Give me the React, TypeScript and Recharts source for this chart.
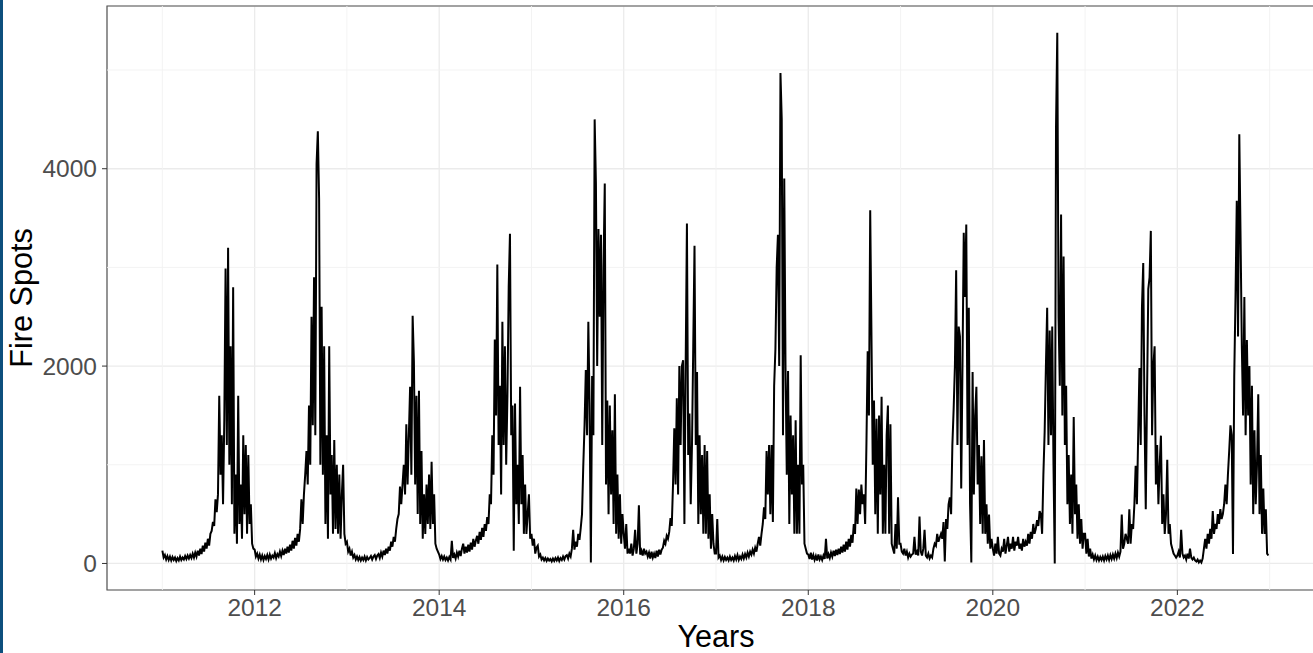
import React from 'react';
import { LineChart, Line, XAxis, YAxis, CartesianGrid, ReferenceLine, ReferenceArea, Label } from 'recharts';

const years = [2011, 2012, 2013, 2014, 2015, 2016, 2017, 2018, 2019, 2020, 2021, 2022];

const fires2011 = [
  130, 60, 85, 40, 75, 35, 70, 30, 65, 35,
  60, 25, 55, 30, 70, 35, 60, 40, 75, 45,
  80, 50, 85, 55, 100, 60, 110, 70, 130, 80,
  150, 95, 180, 120, 210, 150, 250, 180, 300, 330,
  420, 380, 650, 520, 700, 1700, 900, 1300, 600, 1450,
  2990, 1200, 3200, 1000, 2200, 600, 2800, 300, 900, 200,
  1700, 400, 800, 250, 1300, 500, 1200, 300, 1100, 400, 600, 200, 150,
];
const fires2012 = [
  140, 70, 100, 50, 90, 40, 80, 35, 75, 45,
  85, 40, 90, 50, 80, 60, 105, 55, 95, 70,
  120, 75, 130, 85, 150, 100, 170, 110, 190, 130,
  230, 150, 260, 180, 300, 220, 350, 650, 400, 700,
  900, 1140, 800, 1600, 1000, 2500, 1400, 2900, 1300, 4050,
  4380, 3700, 1000, 2600, 900, 2200, 400, 1300, 250, 2200,
  700, 1100, 300, 1250, 350, 1000, 300, 900, 250, 700,
  1000, 300, 200,
];
const fires2013 = [
  220, 120, 150, 80, 120, 60, 85, 40, 70, 35,
  65, 30, 60, 35, 70, 30, 65, 40, 55, 75,
  40, 70, 85, 45, 80, 95, 55, 110, 70, 130,
  85, 150, 100, 170, 130, 220, 170, 270, 220, 350,
  450, 500, 780, 600, 800, 1000, 700, 1410, 800, 1300,
  1790, 900, 2510, 2050, 800, 1700, 500, 1750, 400, 1140,
  250, 700, 300, 800, 400, 900, 350, 1030, 400, 700,
  200, 150, 120,
];
const fires2014 = [
  90, 45, 75, 40, 70, 35, 60, 30, 65, 40,
  230, 55, 90, 50, 110, 70, 130, 75, 150, 200,
  100, 170, 110, 190, 120, 210, 140, 250, 170, 230,
  280, 200, 320, 240, 360, 270, 400, 330, 470, 400,
  700, 600, 1300, 900, 2270, 1500, 3030, 1200, 1800, 700,
  2450, 1200, 2200, 1000, 1700, 2800, 3340, 1300, 1600, 130,
  1620, 600, 1000, 400, 1790, 600, 1100, 300, 800, 300,
  500, 700, 250,
];
const fires2015 = [
  300, 180, 250, 100, 160, 180, 70, 90, 40, 60,
  30, 55, 25, 50, 30, 45, 20, 50, 25, 55,
  30, 60, 25, 55, 35, 70, 40, 75, 85, 50,
  100, 70, 150, 340, 140, 220, 170, 300, 240, 360,
  500, 990, 1400, 1960, 1300, 2450, 1600, 10, 1900, 1300,
  4500, 3850, 2000, 3390, 2500, 3330, 1200, 3000, 3850, 800,
  1650, 500, 1600, 700, 1350, 400, 1715, 300, 900, 250,
  700, 200, 500,
];
const fires2016 = [
  300, 150, 400, 100, 150, 100, 200, 80, 150, 340,
  100, 200, 590, 90, 130, 80, 150, 100, 120, 70,
  110, 50, 120, 60, 100, 55, 130, 70, 140, 90,
  140, 160, 230, 200, 280, 250, 320, 460, 380, 800,
  1370, 800, 1675, 700, 2000, 1200, 2000, 2060, 400, 2000,
  3445, 1100, 1520, 600, 1200, 2200, 3220, 1200, 1940, 400,
  1300, 500, 1100, 300, 1200, 300, 1140, 250, 700, 150,
  500, 200, 100,
];
const fires2017 = [
  100, 450, 60, 80, 35, 70, 30, 65, 35, 60,
  30, 70, 35, 60, 30, 75, 40, 85, 35, 70,
  45, 90, 50, 95, 60, 110, 70, 120, 90, 140,
  100, 160, 120, 200, 270, 180, 300, 400, 570, 450,
  1140, 700, 1200, 500, 1200, 420, 1800, 2170, 3000, 3330,
  2000, 4970, 4500, 1300, 3900, 1980, 900, 1950, 400, 1500,
  700, 1300, 300, 1450, 300, 1000, 300, 2110, 800, 1000,
  200, 150, 100,
];
const fires2018 = [
  90, 45, 110, 40, 85, 35, 75, 30, 90, 40,
  70, 35, 80, 45, 250, 50, 95, 55, 110, 70,
  130, 75, 140, 85, 150, 95, 170, 110, 190, 120,
  220, 140, 250, 170, 290, 210, 400, 300, 760, 400,
  750, 500, 800, 600, 700, 400, 1200, 2150, 1500, 3580,
  2300, 1000, 1650, 500, 1465, 300, 1500, 700, 1690, 300,
  1000, 300, 1300, 1600, 300, 1410, 200, 150, 100, 400,
  150, 670, 200,
];
const fires2019 = [
  200, 120, 100, 150, 80, 120, 60, 100, 70, 90,
  100, 270, 90, 120, 80, 475, 120, 80, 150, 340,
  80, 60, 100, 50, 80, 60, 150, 200, 180, 300,
  220, 260, 300, 250, 420, 20, 450, 350, 600, 670,
  500, 1200, 1560, 2000, 2970, 1200, 2400, 2300, 760, 2000,
  3350, 2700, 3435, 1200, 2590, 600, 10, 1940, 700, 1500,
  1790, 800, 1200, 400, 1085, 300, 1250, 300, 600, 200,
  495, 150, 250,
];
const fires2020 = [
  150, 80, 200, 100, 270, 100, 80, 150, 120, 250,
  100, 180, 270, 120, 200, 150, 270, 130, 220, 180,
  270, 150, 200, 130, 250, 170, 220, 180, 300, 200,
  320, 250, 400, 300, 350, 440, 380, 530, 500, 300,
  900, 1330, 2000, 2590, 1200, 2360, 1300, 2400, 1000, 0,
  4425, 5377, 2500, 1800, 3535, 1500, 3110, 1200, 1800, 600,
  1100, 400, 900, 300, 1485, 500, 800, 250, 600, 200,
  450, 150, 300,
];
const fires2021 = [
  300, 100, 250, 70, 150, 50, 90, 40, 80, 35,
  70, 30, 65, 35, 70, 30, 75, 40, 80, 35,
  85, 45, 90, 50, 100, 55, 110, 70, 120, 495,
  150, 200, 300, 250, 200, 550, 200, 400, 350, 600,
  990, 600, 1300, 1980, 1200, 2600, 3045, 1500, 550, 1700,
  2780, 2900, 3370, 1300, 2000, 2200, 800, 1200, 600, 1000,
  1295, 400, 700, 300, 500, 1050, 300, 400, 200, 150,
  100, 80, 60,
];
const fires2022 = [
  80, 120, 60, 340, 100, 60, 80, 40, 100, 50,
  150, 60, 40, 60, 30, 20, 40, 10, 30, 10,
  50, 150, 250, 150, 300, 200, 350, 250, 530, 300,
  400, 350, 500, 400, 550, 450, 500, 600, 800, 600,
  900, 1140, 1400, 1300, 95, 1900, 2700, 3675, 2300, 4350,
  3300, 2200, 1500, 2700, 1300, 2265, 1500, 2000, 800, 1800,
  500, 1350, 600, 1000, 1715, 500, 1100, 300, 760, 300,
  550, 100, 80,
];

const seriesByYear = [
  fires2011, fires2012, fires2013, fires2014, fires2015, fires2016,
  fires2017, fires2018, fires2019, fires2020, fires2021, fires2022,
];

const xTicks = [2012, 2014, 2016, 2018, 2020, 2022];
const xMinorTicks = [2011, 2013, 2015, 2017, 2019, 2021, 2023];
const yTicks = [0, 2000, 4000];
const yMinorTicks = [1000, 3000, 5000];

const X_DOMAIN: [number, number] = [2010.4, 2023.6];
const Y_DOMAIN: [number, number] = [-269, 5649];

const data = years.flatMap((yr, k) =>
  seriesByYear[k].map((v, i, arr) => ({ t: yr + i / arr.length, v }))
);

const FONT = "'Liberation Sans', Arial, Helvetica, sans-serif";

export default function App() {
  return (
    <div
      style={{
        position: 'absolute',
        left: 0,
        top: 0,
        width: 1313,
        height: 653,
        overflow: 'hidden',
        background: '#ffffff',
        fontFamily: FONT,
      }}
    >
      <div
        style={{
          position: 'absolute',
          left: 0,
          top: 0,
          width: 3,
          height: 653,
          background: '#0d4f7d',
          zIndex: 2,
        }}
      />
      <LineChart
        width={1340}
        height={653}
        data={data}
        margin={{ top: 6, right: 15, bottom: 0, left: 0 }}
      >
        <CartesianGrid stroke="#ebebeb" strokeWidth={1.3} />
        {xMinorTicks.map((x) => (
          <ReferenceLine key={'mx' + x} x={x} stroke="#f2f2f2" strokeWidth={0.9} />
        ))}
        {yMinorTicks.map((y) => (
          <ReferenceLine key={'my' + y} y={y} stroke="#f2f2f2" strokeWidth={0.9} />
        ))}
        <XAxis
          type="number"
          dataKey="t"
          domain={X_DOMAIN}
          ticks={xTicks}
          interval={0}
          allowDataOverflow
          axisLine={false}
          tickLine={{ stroke: '#333333', strokeWidth: 1 }}
          tickSize={5}
          tickMargin={4}
          height={63}
          tick={{ fill: '#4d4d4d', fontSize: 24.5, fontFamily: FONT }}
        >
          <Label
            value="Years"
            position="insideBottom"
            offset={6}
            fill="#000000"
            fontSize={30.6}
            fontFamily={FONT}
          />
        </XAxis>
        <YAxis
          type="number"
          domain={Y_DOMAIN}
          ticks={yTicks}
          interval={0}
          allowDataOverflow
          width={107}
          axisLine={false}
          tickLine={{ stroke: '#333333', strokeWidth: 1 }}
          tickSize={5}
          tickMargin={5}
          tick={{ fill: '#4d4d4d', fontSize: 24.5, fontFamily: FONT }}
        >
          <Label
            value="Fire Spots"
            angle={-90}
            position="insideLeft"
            offset={21}
            fill="#000000"
            fontSize={30.6}
            fontFamily={FONT}
            style={{ textAnchor: 'middle' }}
          />
        </YAxis>
        <Line
          type="linear"
          dataKey="v"
          stroke="#000000"
          strokeWidth={2}
          dot={false}
          isAnimationActive={false}
        />
        <ReferenceArea
          x1={X_DOMAIN[0]}
          x2={X_DOMAIN[1]}
          y1={Y_DOMAIN[0]}
          y2={Y_DOMAIN[1]}
          fill="none"
          fillOpacity={0}
          stroke="#555555"
          strokeWidth={1.2}
        />
      </LineChart>
    </div>
  );
}
